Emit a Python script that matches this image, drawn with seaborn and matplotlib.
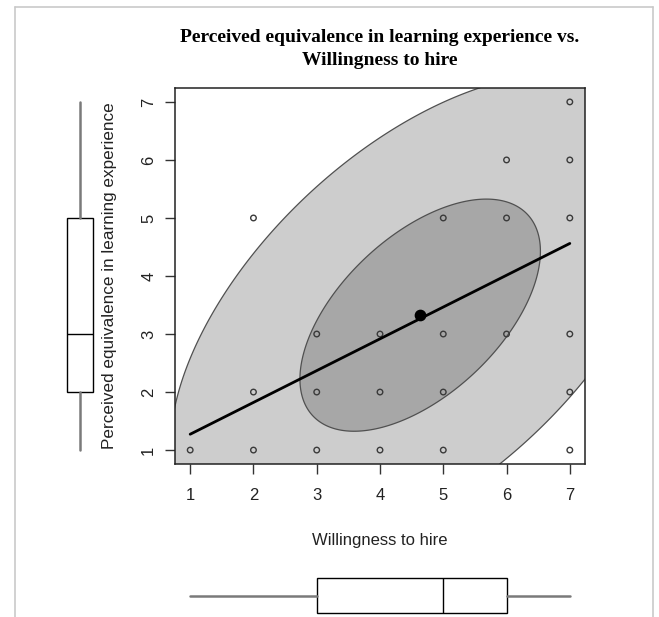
import numpy as np
import matplotlib
matplotlib.use("Agg")
import matplotlib.pyplot as plt
from matplotlib.lines import Line2D
import seaborn as sns
import pandas as pd

# Survey responses (7-point scales)
willingness = [1, 2, 2, 2, 3, 3, 3, 4, 4, 4, 5, 5, 5, 5, 6, 6, 6, 7, 7, 7, 7, 7, 7]
equivalence = [1, 1, 2, 5, 1, 2, 3, 1, 2, 3, 1, 2, 3, 5, 3, 5, 6, 1, 2, 3, 5, 6, 7]

# Bivariate summary used for the concentration ellipses and the fit line
center = [4.635, 3.325]
sd_xy = [1.614, 1.699]
corr_xy = 0.55
ellipse_levels = [0.95, 0.5]
fit_intercept = 0.725
fit_slope = 0.548
fit_range = [1, 7]

# Marginal box summaries: whisker low, Q1, median, Q3, whisker high
x_box = [1, 3, 5, 6, 7]
y_box = [1, 2, 3, 5, 7]

ticks = [1, 2, 3, 4, 5, 6, 7]
lims = (0.76, 7.24)

title = "Perceived equivalence in learning experience vs.\nWillingness to hire"
xlabel = "Willingness to hire"
ylabel = "Perceived equivalence in learning experience"

sns.set_theme(style="white")
plt.rcParams["font.family"] = ["Liberation Sans", "DejaVu Sans"]

W, H = 659, 617
fig = plt.figure(figsize=(W / 100, H / 100), dpi=100)
fig.patch.set_facecolor("white")


def px_axes(l, t, r, b):
    return fig.add_axes([l / W, 1 - b / H, (r - l) / W, (b - t) / H])


# outer light frame
frame_kw = dict(color="#c9c9c9", lw=1.2, transform=fig.transFigure)
fig.add_artist(Line2D([15 / W, 653 / W], [1 - 7 / H, 1 - 7 / H], **frame_kw))
fig.add_artist(Line2D([15 / W, 15 / W], [0, 1 - 7 / H], **frame_kw))
fig.add_artist(Line2D([653 / W, 653 / W], [0, 1 - 7 / H], **frame_kw))

ax = px_axes(175, 88, 585, 464)
ax.set_xlim(lims)
ax.set_ylim(lims)
ax.set_facecolor("white")

# concentration ellipses
cov = np.array([[sd_xy[0] ** 2, corr_xy * sd_xy[0] * sd_xy[1]],
                [corr_xy * sd_xy[0] * sd_xy[1], sd_xy[1] ** 2]])
chol = np.linalg.cholesky(cov)
t = np.linspace(0, 2 * np.pi, 400)
circle = np.vstack([np.cos(t), np.sin(t)])
fills = {0.95: "#cdcdcd", 0.5: "#a7a7a7"}
for lev in ellipse_levels:
    r = np.sqrt(-2 * np.log(1 - lev))
    pts = (chol @ circle) * r
    ex = center[0] + pts[0]
    ey = center[1] + pts[1]
    ax.fill(ex, ey, facecolor=fills[lev], edgecolor="#505050", lw=0.9, zorder=1)

# data points
df = pd.DataFrame({"x": willingness, "y": equivalence})
sns.scatterplot(data=df, x="x", y="y", ax=ax, s=16, facecolor="none",
                edgecolor="#3a3a3a", linewidth=1.0, zorder=3)

# least-squares line
fit_df = pd.DataFrame({"x": fit_range,
                       "y": [fit_intercept + fit_slope * v for v in fit_range]})
sns.lineplot(data=fit_df, x="x", y="y", ax=ax, color="black", lw=2.0, zorder=4)

# centroid
ax.scatter([center[0]], [center[1]], s=55, color="black", zorder=5)

ax.set_xticks(ticks)
ax.set_yticks(ticks)
ax.tick_params(axis="both", direction="out", length=7.5, width=1.0,
               color="#333333", labelsize=12, labelcolor="#222222",
               bottom=True, left=True)
ax.tick_params(axis="x", pad=10)
ax.tick_params(axis="y", pad=6, labelrotation=90)
for lab in ax.get_yticklabels():
    lab.set_va("center")
for sp in ax.spines.values():
    sp.set_color("#222222")
    sp.set_linewidth(1.1)

ax.set_xlabel(xlabel, fontsize=12, color="#222222")
ax.set_ylabel(ylabel, fontsize=12.3, color="#222222")
ax.xaxis.set_label_coords(0.5, -0.183)
ax.yaxis.set_label_coords(-0.1415, 0.5)

# marginal boxplots
def box_stats(v):
    return [dict(whislo=v[0], q1=v[1], med=v[2], q3=v[3], whishi=v[4], fliers=[])]

bxp_kw = dict(showcaps=False, showfliers=False, widths=1.0, patch_artist=True,
              boxprops=dict(facecolor="white", edgecolor="black", lw=1.0),
              medianprops=dict(color="black", lw=1.0),
              whiskerprops=dict(color="#7a7a7a", lw=1.8))

axb = px_axes(175, 578, 585, 613)
axb.bxp(box_stats(x_box), positions=[0], orientation="horizontal", **bxp_kw)
axb.set_xlim(lims)
axb.set_ylim(-0.5, 0.5)
axb.axis("off")
for art in axb.get_children():
    art.set_clip_on(False)

axl = px_axes(67, 88, 93, 464)
axl.bxp(box_stats(y_box), positions=[0], orientation="vertical", **bxp_kw)
axl.set_ylim(lims)
axl.set_xlim(-0.5, 0.5)
axl.axis("off")
for art in axl.get_children():
    art.set_clip_on(False)

fig.text(380 / W, 1 - 49 / H, title, ha="center", va="center",
         family=["Liberation Serif", "DejaVu Serif"], fontweight="bold",
         fontsize=14, linespacing=1.45, color="black")

fig.savefig("out.png", dpi=100, facecolor="white")
